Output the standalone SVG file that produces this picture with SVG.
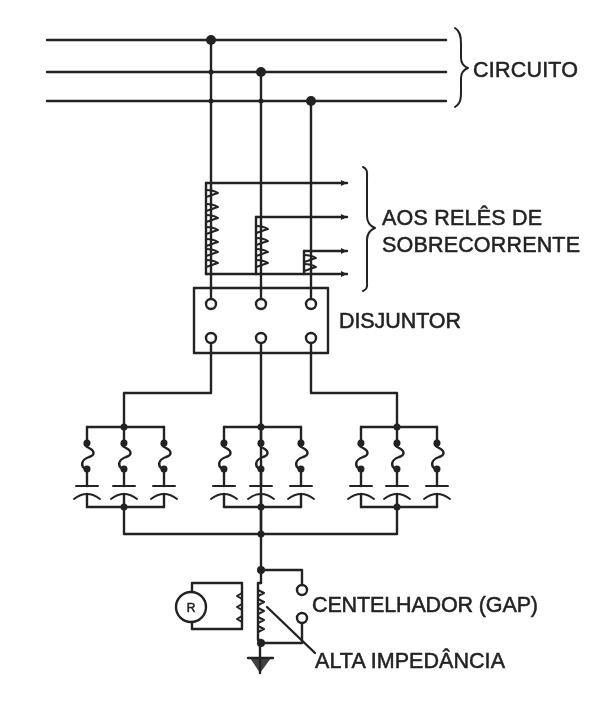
<svg xmlns="http://www.w3.org/2000/svg" width="611" height="708" viewBox="0 0 611 708">
<style>
.w{fill:none;stroke:#222;stroke-width:2.4;stroke-linejoin:round;stroke-linecap:round}
.t{fill:none;stroke:#222;stroke-width:2;stroke-linecap:round;stroke-linejoin:round}
.c{fill:#fff;stroke:#222;stroke-width:2.4}
.d{fill:#222}
text{font-family:"Liberation Sans",Arial,sans-serif;font-size:21.5px;fill:#222;stroke:#222;stroke-width:.5}
</style>
<defs>
<filter id="soft" x="-2%" y="-2%" width="104%" height="104%"><feGaussianBlur stdDeviation="0.55"/></filter>
<marker id="ah" markerWidth="8" markerHeight="8" refX="6" refY="3" orient="auto" markerUnits="userSpaceOnUse"><path d="M0 0L6 3L0 6z" fill="#222"/></marker>
<g id="branch">
<path class="w" d="M0 0V15C-4 17 -2 19 2 21C8 24 8 28 2 30C-6 33 -6 38 -3 41C-1 43 0 43 0 45V59M0 67V80"/>
<path class="t" d="M-11 59H11"/>
<path class="t" d="M-13 72C-8 68 -4 67 0 67C4 67 8 68 13 72"/>
<circle class="d" cx="0" cy="16" r="3.5"/><circle class="d" cx="0" cy="42" r="3.5"/>
</g>
<path id="bump" class="t" d="M0 -3C7 -3 12 0 12 0C8 1 4 3 0 4"/>
</defs>
<rect width="611" height="708" fill="#fff"/>
<g filter="url(#soft)">
<g id="connectors">
<path class="w" d="M47 40H446M47 72H446M47 101H446"/>
<path class="w" d="M211 40V299M261 72V299M311 101V299"/>
<path class="w" d="M211 343V393H124V427M261 343V583M311 343V393H397V427"/>
<path class="w" d="M87 427H164M224 427H301M361 427H437"/>
<path class="w" d="M87 507H164M224 507H301M361 507H437"/>
<path class="w" d="M124 507V534H397V507M261 507V534"/>
<path class="w" d="M261 570H302V585M302 623V643H261"/>
<path class="w" marker-end="url(#ah)" d="M206 183H347"/>
<path class="w" marker-end="url(#ah)" d="M256 217H347"/>
<path class="w" marker-end="url(#ah)" d="M304 251H347"/>
<path class="w" marker-end="url(#ah)" d="M206 274H347"/>
</g>
<g id="bus-junctions">
<circle class="d" cx="211" cy="40" r="5"/><circle class="d" cx="261" cy="72" r="5"/><circle class="d" cx="311" cy="101" r="5"/>
<circle class="d" cx="211" cy="72" r="2.5"/><circle class="d" cx="211" cy="101" r="2.5"/><circle class="d" cx="261" cy="101" r="2.5"/>
<circle class="d" cx="124" cy="427" r="3.5"/><circle class="d" cx="261" cy="427" r="3.5"/><circle class="d" cx="397" cy="427" r="3.5"/>
<circle class="d" cx="124" cy="507" r="3.5"/><circle class="d" cx="261" cy="507" r="3.5"/><circle class="d" cx="397" cy="507" r="3.5"/>
<circle class="d" cx="261" cy="534" r="3.5"/><circle class="d" cx="261" cy="570" r="4"/><circle class="d" cx="261" cy="643" r="4"/>
</g>
<g id="brace-circuito"><path class="t" d="M455 28C460 31 461 36 461 44V58C461 63 463 66 468 68C463 70 461 73 461 78V92C461 100 460 104 455 107"/></g>
<g id="brace-reles"><path class="t" d="M363 167C368 169 367 173 367 180V216C367 222 370 226 375 228C370 230 367 234 367 240V280C367 286 368 289 363 291"/></g>
<g id="tc-a"><path class="w" d="M206 183V274"/><use href="#bump" x="206" y="193"/><use href="#bump" x="206" y="207"/><use href="#bump" x="206" y="218"/><use href="#bump" x="206" y="230"/><use href="#bump" x="206" y="242"/><use href="#bump" x="206" y="252"/><use href="#bump" x="206" y="263"/></g>
<g id="tc-b"><path class="w" d="M256 217V274"/><use href="#bump" x="256" y="229"/><use href="#bump" x="256" y="241"/><use href="#bump" x="256" y="252"/><use href="#bump" x="256" y="263"/></g>
<g id="tc-c"><path class="w" d="M304 251V274"/><use href="#bump" x="304" y="258"/><use href="#bump" x="304" y="267"/></g>
<g id="disjuntor">
<rect class="w" x="194" y="288" width="134" height="65"/>
<circle class="c" cx="211" cy="304" r="5"/><circle class="c" cx="261" cy="304" r="5"/><circle class="c" cx="311" cy="304" r="5"/>
<circle class="c" cx="211" cy="338" r="5"/><circle class="c" cx="261" cy="338" r="5"/><circle class="c" cx="311" cy="338" r="5"/>
</g>
<g id="bank-a"><use href="#branch" x="87" y="427"/><use href="#branch" x="124" y="427"/><use href="#branch" x="164" y="427"/></g>
<g id="bank-b"><use href="#branch" x="224" y="427"/><use href="#branch" x="261" y="427"/><use href="#branch" x="301" y="427"/></g>
<g id="bank-c"><use href="#branch" x="361" y="427"/><use href="#branch" x="397" y="427"/><use href="#branch" x="437" y="427"/></g>
<g id="gap">
<circle class="c" cx="302" cy="590" r="5"/><circle class="c" cx="302" cy="618" r="5"/>
<path class="w" d="M267 607L315 653"/>
</g>
<g id="coil"><path class="w" d="M261 583H258V640H261V643"/><path class="t" d="M258 590L264 593L258 596M258 599L264 602L258 605M258 608L264 611L258 614M258 617L264 620L258 623M258 626L264 629L258 632"/></g>
<g id="motor">
<circle class="w" cx="191" cy="607" r="15"/>
<text x="191" y="612" text-anchor="middle" style="font-size:12px">R</text>
<path class="w" d="M192 592V583H242V629H192V622"/>
<path class="t" d="M242 593L237 596L242 599M242 604L237 607L242 610M242 616L237 619L242 622"/>
</g>
<g id="ground"><path class="w" d="M260 643V673"/><path class="w" d="M248 658H273"/><path class="d" d="M250 658H271L260 673z" opacity=".85"/></g>
<text id="lbl-circuito" x="473" y="77" textLength="105">CIRCUITO</text>
<text id="lbl-reles1" x="382" y="225" textLength="160">AOS RELÊS DE</text>
<text id="lbl-reles2" x="382" y="252" textLength="198">SOBRECORRENTE</text>
<text id="lbl-disjuntor" x="339" y="328" textLength="122">DISJUNTOR</text>
<text id="lbl-gap" x="312" y="612" textLength="226">CENTELHADOR (GAP)</text>
<text id="lbl-alta" x="315" y="668" textLength="190">ALTA IMPEDÂNCIA</text>
</g>
</svg>
